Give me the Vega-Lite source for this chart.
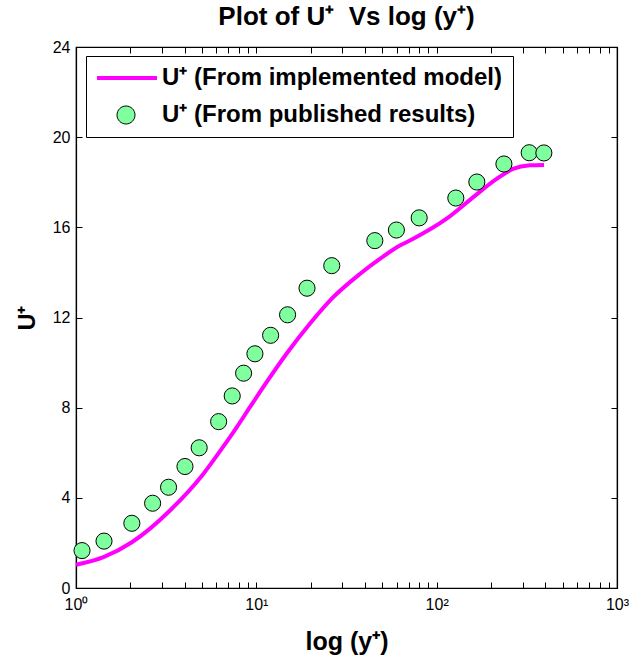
{
  "$schema": "https://vega.github.io/schema/vega-lite/v6.json",
  "autosize": "none",
  "width": 541,
  "height": 541,
  "padding": {"left": 76, "top": 47, "right": 17, "bottom": 78},
  "background": "white",
  "title": {
    "text": "Plot of U⁺\u00a0 Vs log (y⁺)",
    "font": "Liberation Sans",
    "fontSize": 26,
    "fontWeight": "bold",
    "color": "black",
    "anchor": "middle",
    "offset": 9
  },
  "config": {
    "view": {"stroke": "black", "strokeWidth": 1.2},
    "axis": {
      "grid": false,
      "domainColor": "black",
      "domainWidth": 1.2,
      "tickColor": "black",
      "tickSize": -6,
      "labelFont": "Liberation Sans",
      "labelFontSize": 16,
      "labelColor": "black",
      "titleFont": "Liberation Sans",
      "titleFontSize": 25,
      "titleFontWeight": "bold",
      "titleColor": "black"
    },
    "legend": {
      "title": null,
      "orient": "none",
      "legendX": 10,
      "legendY": 9,
      "fillColor": "white",
      "strokeColor": "black",
      "padding": 10,
      "labelFont": "Liberation Sans",
      "labelFontSize": 24,
      "labelFontWeight": "bold",
      "labelColor": "black",
      "labelLimit": 600,
      "labelOffset": 42,
      "symbolSize": 400,
      "rowPadding": 13
    }
  },
  "datasets": {
    "model": [
      {"yp": 1, "up": 1.03, "series": "U⁺ (From implemented model)"},
      {"yp": 1.42, "up": 1.37, "series": "U⁺ (From implemented model)"},
      {"yp": 2.04, "up": 2.03, "series": "U⁺ (From implemented model)"},
      {"yp": 3.32, "up": 3.44, "series": "U⁺ (From implemented model)"},
      {"yp": 5.08, "up": 5.06, "series": "U⁺ (From implemented model)"},
      {"yp": 6.42, "up": 6.17, "series": "U⁺ (From implemented model)"},
      {"yp": 7.78, "up": 7.13, "series": "U⁺ (From implemented model)"},
      {"yp": 9.21, "up": 8.02, "series": "U⁺ (From implemented model)"},
      {"yp": 11.4, "up": 9.13, "series": "U⁺ (From implemented model)"},
      {"yp": 14.7, "up": 10.39, "series": "U⁺ (From implemented model)"},
      {"yp": 19.8, "up": 11.72, "series": "U⁺ (From implemented model)"},
      {"yp": 26.7, "up": 12.9, "series": "U⁺ (From implemented model)"},
      {"yp": 37.5, "up": 13.93, "series": "U⁺ (From implemented model)"},
      {"yp": 48.4, "up": 14.6, "series": "U⁺ (From implemented model)"},
      {"yp": 62.5, "up": 15.19, "series": "U⁺ (From implemented model)"},
      {"yp": 74.1, "up": 15.49, "series": "U⁺ (From implemented model)"},
      {"yp": 113, "up": 16.37, "series": "U⁺ (From implemented model)"},
      {"yp": 159, "up": 17.33, "series": "U⁺ (From implemented model)"},
      {"yp": 215, "up": 18.15, "series": "U⁺ (From implemented model)"},
      {"yp": 265, "up": 18.59, "series": "U⁺ (From implemented model)"},
      {"yp": 329, "up": 18.75, "series": "U⁺ (From implemented model)"},
      {"yp": 394, "up": 18.77, "series": "U⁺ (From implemented model)"}
    ],
    "published": [
      {"yp": 1.08, "up": 1.66, "series": "U⁺ (From published results)"},
      {"yp": 1.43, "up": 2.08, "series": "U⁺ (From published results)"},
      {"yp": 2.04, "up": 2.87, "series": "U⁺ (From published results)"},
      {"yp": 2.66, "up": 3.76, "series": "U⁺ (From published results)"},
      {"yp": 3.26, "up": 4.47, "series": "U⁺ (From published results)"},
      {"yp": 4.02, "up": 5.39, "series": "U⁺ (From published results)"},
      {"yp": 4.82, "up": 6.22, "series": "U⁺ (From published results)"},
      {"yp": 6.18, "up": 7.38, "series": "U⁺ (From published results)"},
      {"yp": 7.35, "up": 8.52, "series": "U⁺ (From published results)"},
      {"yp": 8.5, "up": 9.53, "series": "U⁺ (From published results)"},
      {"yp": 9.82, "up": 10.39, "series": "U⁺ (From published results)"},
      {"yp": 12.0, "up": 11.21, "series": "U⁺ (From published results)"},
      {"yp": 14.9, "up": 12.12, "series": "U⁺ (From published results)"},
      {"yp": 19.1, "up": 13.3, "series": "U⁺ (From published results)"},
      {"yp": 26.2, "up": 14.3, "series": "U⁺ (From published results)"},
      {"yp": 45.4, "up": 15.41, "series": "U⁺ (From published results)"},
      {"yp": 59.8, "up": 15.88, "series": "U⁺ (From published results)"},
      {"yp": 80, "up": 16.42, "series": "U⁺ (From published results)"},
      {"yp": 127.7, "up": 17.3, "series": "U⁺ (From published results)"},
      {"yp": 167, "up": 18.01, "series": "U⁺ (From published results)"},
      {"yp": 236, "up": 18.81, "series": "U⁺ (From published results)"},
      {"yp": 326, "up": 19.31, "series": "U⁺ (From published results)"},
      {"yp": 393, "up": 19.3, "series": "U⁺ (From published results)"}
    ]
  },
  "resolve": {"axis": {"x": "independent", "y": "independent"}},
  "layer": [
    {
      "data": {"name": "model"},
      "mark": {"type": "line", "strokeWidth": 4, "interpolate": "monotone"},
      "encoding": {
        "x": {
          "field": "yp",
          "type": "quantitative",
          "scale": {"type": "log", "domain": [1, 1000], "nice": false},
          "axis": {
            "orient": "bottom",
            "title": "log (y⁺)",
            "titlePadding": 17,
            "values": [1, 2, 3, 4, 5, 6, 7, 8, 9, 10, 20, 30, 40, 50, 60, 70, 80, 90, 100, 200, 300, 400, 500, 600, 700, 800, 900, 1000],
            "labelExpr": "datum.value == 1 ? '10⁰' : datum.value == 10 ? '10¹' : datum.value == 100 ? '10²' : datum.value == 1000 ? '10³' : ''",
            "labelPadding": 14,
            "labelOverlap": false,
            "labelFlush": false
          }
        },
        "y": {
          "field": "up",
          "type": "quantitative",
          "scale": {"domain": [0, 24], "nice": false},
          "axis": {
            "orient": "left",
            "title": "U⁺",
            "titleFontSize": 23,
            "titlePadding": 13,
            "values": [0, 4, 8, 12, 16, 20, 24],
            "labelPadding": 12
          }
        },
        "stroke": {
          "field": "series",
          "type": "nominal",
          "scale": {
            "domain": ["U⁺ (From implemented model)", "U⁺ (From published results)"],
            "range": ["#ff00ff", "#000000"]
          },
          "legend": {
            "encode": {
              "symbols": {
                "update": {
                  "shape": {"signal": "datum.index === 0 ? 'M-1.1,0H4.9' : 'M0.9,0A0.9,0.9,0,1,0,2.7,0A0.9,0.9,0,1,0,0.9,0Z'"},
                  "size": {"value": 400},
                  "strokeWidth": {"signal": "datum.index === 0 ? 4 : 1"},
                  "strokeOpacity": {"value": 1},
                  "fillOpacity": {"value": 1},
                  "opacity": {"value": 1}
                }
              }
            }
          }
        }
      }
    },
    {
      "data": {"name": "published"},
      "mark": {"type": "circle", "size": 260, "opacity": 1, "strokeWidth": 1},
      "encoding": {
        "x": {
          "field": "yp",
          "type": "quantitative",
          "axis": {
            "orient": "top",
            "title": null,
            "labels": false,
            "values": [1, 2, 3, 4, 5, 6, 7, 8, 9, 10, 20, 30, 40, 50, 60, 70, 80, 90, 100, 200, 300, 400, 500, 600, 700, 800, 900, 1000]
          }
        },
        "y": {
          "field": "up",
          "type": "quantitative",
          "axis": {
            "orient": "right",
            "title": null,
            "labels": false,
            "values": [0, 4, 8, 12, 16, 20, 24]
          }
        },
        "stroke": {"field": "series", "type": "nominal"},
        "fill": {
          "field": "series",
          "type": "nominal",
          "scale": {
            "domain": ["U⁺ (From implemented model)", "U⁺ (From published results)"],
            "range": ["#ffffff", "#80ff9f"]
          },
          "legend": {
            "encode": {
              "symbols": {
                "update": {
                  "shape": {"signal": "datum.index === 0 ? 'M-1.1,0H4.9' : 'M0.9,0A0.9,0.9,0,1,0,2.7,0A0.9,0.9,0,1,0,0.9,0Z'"},
                  "size": {"value": 400},
                  "strokeWidth": {"signal": "datum.index === 0 ? 4 : 1"},
                  "strokeOpacity": {"value": 1},
                  "fillOpacity": {"value": 1},
                  "opacity": {"value": 1}
                }
              }
            }
          }
        }
      }
    }
  ]
}
